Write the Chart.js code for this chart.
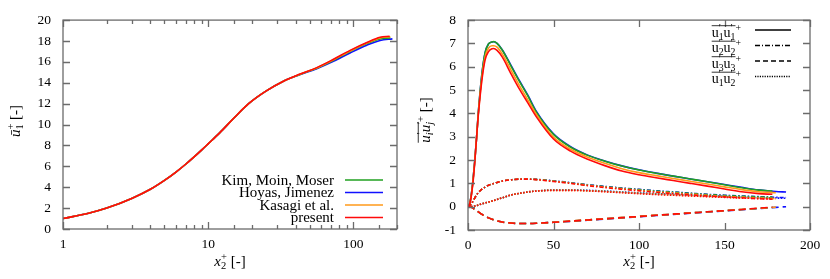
<!DOCTYPE html>
<html>
<head>
<meta charset="utf-8">
<script src="https://cdn.jsdelivr.net/npm/chart.js@4"></script>
<style>
  body { margin: 0; background: #fff; width: 830px; height: 279px; overflow: hidden; position: relative; }
  canvas { position: absolute; top: 0; }
  #left { left: 0; }
  #right { left: 415px; }
</style>
</head>
<body>
<canvas id="left" width="415" height="279"></canvas>
<canvas id="right" width="415" height="279"></canvas>
<script>

// ---------------- data: mean velocity (left) ----------------

const sources = ['Kim, Moin, Moser', 'Hoyas, Jimenez', 'Kasagi et al.', 'present']
const colors = ['#20a020', '#1010ff', '#ff9a1a', '#ff0a0a']
// drawing order, first = bottom (blue sits under green in the reference)
const drawOrder = [1, 0, 2, 3]

const yPlusMeanBase = [1, 1.5, 2, 3, 4, 5, 6, 7, 8, 9, 10, 12, 15, 19, 25, 33, 43, 56, 73, 95, 124, 153]
const yPlusMeanKMM = yPlusMeanBase.concat([180])
const yPlusMeanHoyas = yPlusMeanBase.concat([186])
const yPlusMeanKasagi = yPlusMeanBase.concat([180])
const yPlusMeanPresent = yPlusMeanBase.concat([178])

const uMeanKMM     = [1.0, 1.5, 2.0, 2.95, 3.8, 4.65, 5.45, 6.2, 6.9, 7.55, 8.15, 9.2, 10.6, 12.0, 13.2, 14.15, 14.8, 15.4, 16.15, 17.0, 17.75, 18.2, 18.3]
const uMeanHoyas   = [1.0, 1.5, 2.0, 2.95, 3.8, 4.65, 5.45, 6.2, 6.9, 7.55, 8.15, 9.2, 10.6, 12.0, 13.2, 14.15, 14.78, 15.35, 16.05, 16.85, 17.6, 18.05, 18.2]
const uMeanKasagi  = [1.0, 1.5, 2.0, 2.95, 3.8, 4.65, 5.45, 6.2, 6.9, 7.55, 8.15, 9.2, 10.6, 12.0, 13.2, 14.15, 14.82, 15.42, 16.2, 17.05, 17.8, 18.3, 18.4]
const uMeanPresent = [1.0, 1.5, 2.0, 2.95, 3.8, 4.65, 5.45, 6.2, 6.9, 7.55, 8.15, 9.2, 10.6, 12.0, 13.2, 14.15, 14.83, 15.45, 16.25, 17.1, 17.85, 18.35, 18.45]

const xTicksLeft = [1, 10, 100]

// ---------------- data: Reynolds stresses (right) ----------------

const yPlusRsBase = [0, 1, 2, 3, 4, 5, 6, 8, 10, 12, 14, 15, 17, 20, 25, 30, 35, 40, 50, 60, 70, 80, 90, 100, 110, 120, 130, 140, 150, 160, 170]
const yPlusRsKMM = yPlusRsBase.concat([178])
const yPlusRsHoyas = yPlusRsBase.concat([180, 186])
const yPlusRsKasagi = yPlusRsBase.concat([180])
const yPlusRsPresent = yPlusRsBase.concat([178])

// u1'u1'  (solid)
const u11KMM     = [0, 0.14, 0.55, 1.2, 2.0, 2.95, 4.0, 5.6, 6.6, 6.98, 7.06, 7.08, 7.0, 6.72, 6.05, 5.38, 4.75, 4.05, 3.1, 2.55, 2.2, 1.95, 1.74, 1.57, 1.43, 1.31, 1.19, 1.07, 0.94, 0.81, 0.71, 0.67]
const u11Hoyas   = [0, 0.14, 0.55, 1.2, 2.0, 2.95, 4.0, 5.6, 6.6, 6.98, 7.06, 7.07, 7.0, 6.73, 6.08, 5.41, 4.78, 4.08, 3.12, 2.57, 2.21, 1.96, 1.75, 1.58, 1.44, 1.31, 1.19, 1.07, 0.95, 0.83, 0.72, 0.65, 0.63]
const u11Kasagi  = [0, 0.13, 0.52, 1.15, 1.97, 2.95, 3.95, 5.45, 6.42, 6.8, 6.9, 6.9, 6.84, 6.55, 5.88, 5.2, 4.58, 3.95, 2.98, 2.46, 2.12, 1.86, 1.63, 1.46, 1.33, 1.21, 1.09, 0.97, 0.85, 0.73, 0.64, 0.6]
const u11Present = [0, 0.12, 0.5, 1.1, 1.95, 2.95, 3.9, 5.35, 6.3, 6.65, 6.77, 6.78, 6.7, 6.42, 5.72, 5.05, 4.45, 3.85, 2.9, 2.38, 2.03, 1.76, 1.53, 1.37, 1.24, 1.12, 1.0, 0.88, 0.76, 0.64, 0.56, 0.53]

// u2'u2'  (dash-dot)
const u22KMM     = [0, 0.04, 0.12, 0.25, 0.38, 0.5, 0.6, 0.74, 0.84, 0.92, 0.97, 0.99, 1.04, 1.1, 1.15, 1.18, 1.18, 1.17, 1.1, 1.02, 0.93, 0.86, 0.79, 0.73, 0.67, 0.62, 0.57, 0.52, 0.48, 0.45, 0.42, 0.41]
const u22Hoyas   = [0, 0.04, 0.12, 0.25, 0.38, 0.5, 0.6, 0.74, 0.84, 0.92, 0.97, 0.99, 1.04, 1.1, 1.15, 1.18, 1.18, 1.17, 1.11, 1.03, 0.94, 0.87, 0.8, 0.74, 0.68, 0.63, 0.58, 0.53, 0.49, 0.46, 0.43, 0.4, 0.39]
const u22Kasagi  = [0, 0.04, 0.12, 0.25, 0.38, 0.5, 0.6, 0.74, 0.84, 0.92, 0.97, 0.99, 1.04, 1.1, 1.15, 1.18, 1.18, 1.16, 1.09, 1.01, 0.92, 0.84, 0.77, 0.7, 0.64, 0.59, 0.54, 0.49, 0.44, 0.41, 0.37, 0.35]
const u22Present = [0, 0.04, 0.12, 0.25, 0.38, 0.5, 0.6, 0.74, 0.84, 0.92, 0.97, 0.99, 1.04, 1.1, 1.15, 1.18, 1.18, 1.16, 1.08, 1.0, 0.9, 0.82, 0.75, 0.68, 0.62, 0.56, 0.51, 0.46, 0.42, 0.38, 0.34, 0.32]

// u3'u3'  (dashed)
const u33KMM     = [0, -0.01, -0.03, -0.07, -0.12, -0.17, -0.22, -0.32, -0.41, -0.48, -0.54, -0.56, -0.61, -0.66, -0.7, -0.72, -0.72, -0.71, -0.67, -0.62, -0.57, -0.52, -0.47, -0.42, -0.37, -0.32, -0.27, -0.22, -0.17, -0.12, -0.07, -0.03]
const u33Hoyas   = [0, -0.01, -0.03, -0.07, -0.12, -0.17, -0.22, -0.32, -0.41, -0.48, -0.54, -0.56, -0.61, -0.66, -0.7, -0.72, -0.72, -0.71, -0.67, -0.63, -0.58, -0.53, -0.48, -0.43, -0.38, -0.33, -0.28, -0.23, -0.18, -0.13, -0.08, -0.03, 0.0]
const u33Kasagi  = [0, -0.01, -0.03, -0.07, -0.12, -0.17, -0.22, -0.32, -0.41, -0.48, -0.54, -0.56, -0.61, -0.66, -0.7, -0.72, -0.72, -0.71, -0.67, -0.62, -0.57, -0.52, -0.47, -0.42, -0.37, -0.32, -0.27, -0.22, -0.17, -0.12, -0.07, -0.02]
const u33Present = [0, -0.01, -0.03, -0.07, -0.12, -0.17, -0.22, -0.32, -0.41, -0.48, -0.54, -0.56, -0.61, -0.66, -0.7, -0.72, -0.72, -0.71, -0.67, -0.62, -0.57, -0.52, -0.47, -0.42, -0.37, -0.32, -0.27, -0.22, -0.17, -0.12, -0.06, -0.02]

// u1'u2'  (dotted)
const u12KMM     = [0, 0, 0.005, 0.012, 0.03, 0.045, 0.07, 0.12, 0.16, 0.2, 0.24, 0.26, 0.31, 0.38, 0.5, 0.57, 0.63, 0.67, 0.71, 0.71, 0.69, 0.66, 0.62, 0.58, 0.55, 0.52, 0.49, 0.46, 0.43, 0.41, 0.39, 0.38]
const u12Hoyas   = [0, 0, 0.005, 0.012, 0.03, 0.045, 0.07, 0.12, 0.16, 0.2, 0.24, 0.26, 0.31, 0.38, 0.5, 0.57, 0.63, 0.67, 0.71, 0.71, 0.7, 0.67, 0.63, 0.59, 0.56, 0.53, 0.5, 0.47, 0.44, 0.41, 0.39, 0.37, 0.36]
const u12Kasagi  = [0, 0, 0.005, 0.012, 0.03, 0.045, 0.07, 0.12, 0.16, 0.2, 0.24, 0.26, 0.31, 0.38, 0.5, 0.57, 0.63, 0.67, 0.7, 0.7, 0.68, 0.65, 0.61, 0.57, 0.53, 0.5, 0.47, 0.44, 0.41, 0.38, 0.36, 0.34]
const u12Present = [0, 0, 0.005, 0.012, 0.03, 0.045, 0.07, 0.12, 0.16, 0.2, 0.24, 0.26, 0.31, 0.38, 0.5, 0.57, 0.63, 0.67, 0.7, 0.7, 0.68, 0.64, 0.6, 0.56, 0.52, 0.49, 0.46, 0.43, 0.4, 0.37, 0.35, 0.33]

const FONT = '"Liberation Serif", "DejaVu Serif", serif'

const pts = (xs, ys) => xs.map((x, i) => ({ x, y: ys[i] }))

// draws a line of text built from parts: [text, kind]
// kind: '' upright, 'i' italic, 'S' stacked [sup, sub] pair (text is an array)
// overN = number of leading parts under an overline
function drawRich(ctx, parts, x, y, align, size, overN) {
  const small = size * 0.7
  let w = 0
  const segs = parts.map(([t, k]) => {
    const it = k.includes('i') ? 'italic ' : ''
    let sw
    if (k.includes('S')) {
      ctx.font = it + small + 'px ' + FONT
      sw = Math.max(ctx.measureText(t[0]).width, ctx.measureText(t[1]).width)
    } else {
      ctx.font = it + size + 'px ' + FONT
      sw = ctx.measureText(t).width
    }
    const s = { t, k, it, sw, x0: w }
    w += sw
    return s
  })
  let cx = align === 'right' ? x - w : align === 'center' ? x - w / 2 : x
  ctx.textBaseline = 'alphabetic'
  ctx.textAlign = 'left'
  ctx.fillStyle = '#000'
  const base = y + size * 0.33
  segs.forEach(s => {
    if (s.k.includes('S')) {
      ctx.font = s.it + small + 'px ' + FONT
      if (s.t[0]) ctx.fillText(s.t[0], cx + s.x0, base - size * 0.42)
      if (s.t[1]) ctx.fillText(s.t[1], cx + s.x0, base + size * 0.22)
    } else {
      ctx.font = s.it + size + 'px ' + FONT
      ctx.fillText(s.t, cx + s.x0, base)
    }
  })
  if (overN) {
    const end = segs[overN - 1].x0 + segs[overN - 1].sw
    ctx.strokeStyle = '#000'
    ctx.lineWidth = 0.8
    ctx.setLineDash([])
    ctx.beginPath()
    ctx.moveTo(cx, base - size * 0.78)
    ctx.lineTo(cx + end, base - size * 0.78)
    ctx.stroke()
  }
  return w
}

// frame with inward ticks on all four sides, like the reference
function frameTicks(chart) {
  const { ctx, chartArea: a, scales: { x, y } } = chart
  ctx.save()
  ctx.strokeStyle = '#6b6b6b'
  ctx.lineWidth = 1.3
  ctx.setLineDash([])
  ctx.beginPath()
  x.ticks.forEach(t => {
    const px = Math.round(x.getPixelForValue(t.value)) + 0.5
    const major = x.type !== 'logarithmic' || Number.isInteger(Math.log10(t.value))
    const len = major ? 7 : 4
    ctx.moveTo(px, a.bottom); ctx.lineTo(px, a.bottom - len)
    ctx.moveTo(px, a.top); ctx.lineTo(px, a.top + len)
  })
  y.ticks.forEach(t => {
    const py = Math.round(y.getPixelForValue(t.value)) + 0.5
    ctx.moveTo(a.left, py); ctx.lineTo(a.left + 7, py)
    ctx.moveTo(a.right, py); ctx.lineTo(a.right - 7, py)
  })
  ctx.stroke()
  ctx.strokeRect(a.left, a.top, a.right - a.left, a.bottom - a.top)
  ctx.restore()
}

const tickFont = { family: FONT, size: 13.5 }

// ---------------- left chart ----------------

const meanX = [yPlusMeanKMM, yPlusMeanHoyas, yPlusMeanKasagi, yPlusMeanPresent]
const meanY = [uMeanKMM, uMeanHoyas, uMeanKasagi, uMeanPresent]

// chart.js paints the first dataset on top, so build bottom-first then reverse
const leftDatasets = drawOrder.map(i => ({
  label: sources[i],
  data: pts(meanX[i], meanY[i]),
  borderColor: colors[i],
  borderWidth: 1.6,
  pointRadius: 0,
  cubicInterpolationMode: 'monotone',
  fill: false
})).reverse()

const leftPlugin = {
  id: 'leftDecor',
  afterDraw(chart) {
    const ctx = chart.ctx
    frameTicks(chart)
    ctx.save()
    // legend
    const rows = [180, 192.5, 205, 217.5]
    sources.forEach((s, i) => {
      drawRich(ctx, [[s, '']], 334, rows[i], 'right', 15)
      ctx.strokeStyle = colors[i]
      ctx.lineWidth = 1.6
      ctx.beginPath()
      ctx.moveTo(345, rows[i]); ctx.lineTo(383, rows[i])
      ctx.stroke()
    })
    // axis titles
    drawRich(ctx, [['x', 'i'], [['+', '2'], 'S'], [' [-]', '']], 230, 261, 'center', 15)
    ctx.translate(15, 121)
    ctx.rotate(-Math.PI / 2)
    drawRich(ctx, [['ū', 'i'], [['+', '1'], 'S'], [' [-]', '']], 0, 0, 'center', 15)
    ctx.restore()
  }
}

new Chart(document.getElementById('left'), {
  type: 'line',
  data: { datasets: leftDatasets },
  options: {
    responsive: false,
    animation: false,
    devicePixelRatio: 1,
    layout: { padding: { top: 14, right: 18, left: 0, bottom: 0 } },
    plugins: { legend: { display: false }, tooltip: { enabled: false } },
    scales: {
      x: {
        type: 'logarithmic',
        min: 1,
        max: 200,
        grid: { display: false, drawTicks: false },
        border: { display: false },
        ticks: {
          autoSkip: false,
          maxRotation: 0,
          padding: 7,
          color: '#000',
          font: tickFont,
          callback: v => xTicksLeft.includes(v) ? String(v) : ''
        },
        afterFit: s => { s.height = 50 }
      },
      y: {
        min: 0,
        max: 20,
        grid: { display: false, drawTicks: false },
        border: { display: false },
        ticks: { stepSize: 2, padding: 12, color: '#000', font: tickFont },
        afterFit: s => { s.width = 63 }
      }
    }
  },
  plugins: [leftPlugin]
})

// ---------------- right chart ----------------

const rsX = [yPlusRsKMM, yPlusRsHoyas, yPlusRsKasagi, yPlusRsPresent]
const rsSets = [
  { vals: [u11KMM, u11Hoyas, u11Kasagi, u11Present], dash: [] },
  { vals: [u22KMM, u22Hoyas, u22Kasagi, u22Present], dash: [4, 2, 1.5, 2] },
  { vals: [u33KMM, u33Hoyas, u33Kasagi, u33Present], dash: [7, 4] },
  { vals: [u12KMM, u12Hoyas, u12Kasagi, u12Present], dash: [1.5, 1.5] }
]

const rightDatasets = []
drawOrder.forEach(i => {
  rsSets.forEach(set => {
    rightDatasets.push({
      label: sources[i],
      data: pts(rsX[i], set.vals[i]),
      borderColor: colors[i],
      borderWidth: 1.6,
      borderDash: set.dash,
      pointRadius: 0,
      cubicInterpolationMode: 'monotone',
      fill: false
    })
  })
})
rightDatasets.reverse()

const legendRight = [
  ['1', '1', []],
  ['2', '2', [5, 2, 1, 2]],
  ['3', '3', [5, 3]],
  ['1', '2', [1.2, 1.2]]
]

const rightPlugin = {
  id: 'rightDecor',
  afterDraw(chart) {
    const ctx = chart.ctx
    frameTicks(chart)
    ctx.save()
    const rows = [30, 45.5, 61, 76.5]
    legendRight.forEach(([a, b, dash], i) => {
      drawRich(ctx, [['u', ''], [['′', a], 'S'], ['u', ''], [['′', b], 'S'], [['+', ''], 'S']], 326, rows[i] + 2, 'right', 14, 4)
      ctx.strokeStyle = '#000'
      ctx.lineWidth = 1.3
      ctx.setLineDash(dash)
      ctx.beginPath()
      ctx.moveTo(340, rows[i]); ctx.lineTo(376, rows[i])
      ctx.stroke()
      ctx.setLineDash([])
    })
    drawRich(ctx, [['x', 'i'], [['+', '2'], 'S'], [' [-]', '']], 224, 261, 'center', 15)
    ctx.translate(10, 120)
    ctx.rotate(-Math.PI / 2)
    drawRich(ctx, [['u', 'i'], [['′', 'i'], 'Si'], ['u', 'i'], [['′', 'j'], 'Si'], [['+', ''], 'S'], [' [-]', '']], 0, 0, 'center', 15, 4)
    ctx.restore()
  }
}

new Chart(document.getElementById('right'), {
  type: 'line',
  data: { datasets: rightDatasets },
  options: {
    responsive: false,
    animation: false,
    devicePixelRatio: 1,
    layout: { padding: { top: 14, right: 20, left: 0, bottom: 0 } },
    plugins: { legend: { display: false }, tooltip: { enabled: false } },
    scales: {
      x: {
        type: 'linear',
        min: 0,
        max: 200,
        grid: { display: false, drawTicks: false },
        border: { display: false },
        ticks: { stepSize: 50, maxRotation: 0, padding: 7, color: '#000', font: tickFont },
        afterFit: s => { s.height = 49 }
      },
      y: {
        min: -1,
        max: 8,
        grid: { display: false, drawTicks: false },
        border: { display: false },
        ticks: { stepSize: 1, padding: 12, color: '#000', font: tickFont },
        afterFit: s => { s.width = 53 }
      }
    }
  },
  plugins: [rightPlugin]
})
</script>
</body>
</html>
